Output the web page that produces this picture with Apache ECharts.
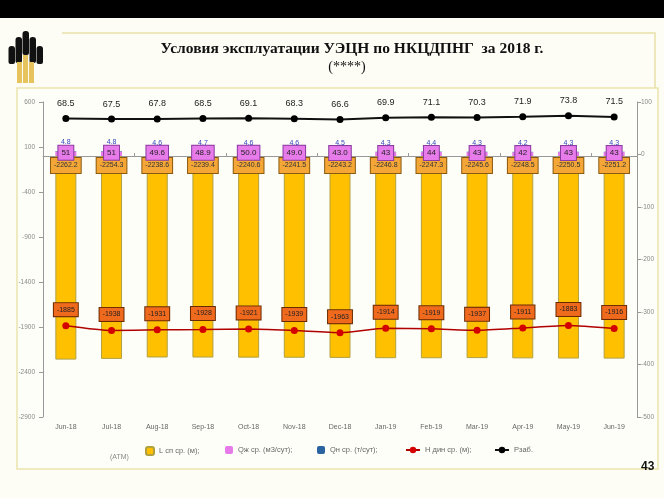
<!DOCTYPE html>
<html>
<head>
<meta charset="utf-8">
<script src="https://cdn.jsdelivr.net/npm/echarts@6/dist/echarts.min.js"></script>
<style>
html,body{margin:0;padding:0;background:#fdfdf6;}
#c{width:664px;height:498px;}
</style>
</head>
<body>
<div id="c"></div>
<script>
const categories = ['Jun-18','Jul-18','Aug-18','Sep-18','Oct-18','Nov-18','Dec-18','Jan-19','Feb-19','Mar-19','Apr-19','May-19','Jun-19'];
const lValues = [-2262.2,-2254.3,-2238.6,-2239.4,-2240.6,-2241.5,-2243.2,-2246.8,-2247.3,-2245.6,-2248.5,-2250.5,-2251.2];
const qzhValues = [51,51,49.6,48.9,50.0,49.0,43.0,43,44,43,42,43,43];
const qzhLabels = ['51','51','49.6','48.9','50.0','49.0','43.0','43','44','43','42','43','43'];
const qnValues = [4.8,4.8,4.6,4.7,4.6,4.6,4.5,4.3,4.4,4.3,4.2,4.3,4.3];
const hdynValues = [-1885,-1938,-1931,-1928,-1921,-1939,-1963,-1914,-1919,-1937,-1911,-1883,-1916];
const pzabValues = [68.5,67.5,67.8,68.5,69.1,68.3,66.6,69.9,71.1,70.3,71.9,73.8,71.5];
const seriesNames = ['L сп ср. (м);','Qж ср. (м3/сут);','Qн ср. (т/сут);','Н дин ср. (м);','Рзаб.'];
const leftAxis = {min:-2900, max:600, interval:500};
const rightAxis = {min:-500, max:100, interval:100};

const chart = echarts.init(document.getElementById('c'), null, {renderer:'canvas'});

const logo = [];
[[8,46,6.5,18],[15,37,6.5,26],[22,31,6.5,24],[29,37,6.5,26],[36,46,6.5,18]].forEach(r=>{
  logo.push({type:'rect',shape:{x:r[0]+0.5,y:r[1],width:r[2],height:r[3],r:[3,3,2,2]},style:{fill:'#111'}});
});
[[17,62,5,21],[23,55,5,28],[29,62,5,21]].forEach(r=>{
  logo.push({type:'rect',shape:{x:r[0],y:r[1],width:r[2],height:r[3]},style:{fill:'#e6c35c'}});
});

const legendLefts = [140, 220, 312, 400, 489];
const legends = seriesNames.map((n,i)=>({
  data:[n], left:legendLefts[i], top:441, itemWidth: i<3?8:14, itemHeight: 8, itemGap:4,
  textStyle:{fontSize:7.5,color:'#666',fontFamily:'Liberation Sans'}
}));

const option = {
  backgroundColor:'#fdfdf6',
  animation:false,
  textStyle:{fontFamily:'Liberation Sans'},
  graphic:[
    {type:'rect',shape:{x:0,y:0,width:664,height:18},style:{fill:'#000'}},
    {type:'polyline',shape:{points:[[62,33],[655,33],[655,88]]},style:{stroke:'#e9dfa8',fill:null,lineWidth:1.5}},
    {type:'rect',shape:{x:17,y:88,width:641,height:381},style:{fill:'#fefef9',stroke:'#ece3ad',lineWidth:1.5},z:-10},
    ...logo,
    {type:'text',style:{x:352,y:41,text:'Условия эксплуатации УЭЦН по НКЦДПНГ  за 2018 г.',font:'bold 15.5px "Liberation Serif"',fill:'#111',textAlign:'center'}},
    {type:'text',style:{x:347,y:60,text:'(****)',font:'14px "Liberation Serif"',fill:'#111',textAlign:'center'}},
    {type:'text',style:{x:110,y:454,text:'(АТМ)',font:'7px "Liberation Sans"',fill:'#888'}},
    {type:'text',style:{x:641,y:461,text:'43',font:'bold 12px "Liberation Sans"',fill:'#111'}}
  ],
  legend: legends,
  grid:{left:43,right:27,top:102,bottom:81,containLabel:false},
  xAxis:[
    {type:'category',data:categories,position:'bottom',axisLine:{show:false},axisTick:{show:false},
     axisLabel:{fontSize:7,color:'#666',margin:7}},
    {type:'category',data:categories,position:'top',axisLine:{show:true,onZero:true,onZeroAxisIndex:0,lineStyle:{color:'#999',width:1}},
     axisTick:{show:true,length:3,inside:false,lineStyle:{color:'#999'}},axisLabel:{show:false}}
  ],
  yAxis:[
    {type:'value',min:leftAxis.min,max:leftAxis.max,interval:leftAxis.interval,position:'left',
     axisLine:{show:true,lineStyle:{color:'#999'}},axisTick:{show:true,length:4,lineStyle:{color:'#999'}},
     splitLine:{show:false},axisLabel:{fontSize:6.5,color:'#888',margin:8,formatter:v=>String(v)}},
    {type:'value',min:rightAxis.min,max:rightAxis.max,interval:rightAxis.interval,position:'right',
     axisLine:{show:true,lineStyle:{color:'#999'}},axisTick:{show:true,length:4,lineStyle:{color:'#999'}},
     splitLine:{show:false},axisLabel:{fontSize:6.5,color:'#888',margin:4,formatter:v=>String(v)}}
  ],
  series:[
    {name:seriesNames[0],type:'bar',stack:'a',yAxisIndex:0,data:lValues,barWidth:21,
     itemStyle:{color:'#FFC000',borderColor:'#b0a040',borderWidth:1},
     label:{show:true,position:'insideTop',offset:[0,-3],formatter:p=>p.value.toFixed(1),fontSize:7,color:'#333',
       backgroundColor:'#F4A637',borderColor:'#8a5a10',borderWidth:1,padding:[4,3]}},
    {name:seriesNames[1],type:'bar',stack:'a',yAxisIndex:0,data:qzhValues,barWidth:21,
     itemStyle:{color:'#E57AE8'},
     label:{show:true,position:'inside',offset:[0,-1],formatter:p=>qzhLabels[p.dataIndex],fontSize:8,color:'#222',
       backgroundColor:'#E77BEA',borderColor:'#8a3aa0',borderWidth:1,padding:[3,3]}},
    {name:seriesNames[2],type:'bar',stack:'a',yAxisIndex:0,data:qnValues,barWidth:21,
     itemStyle:{color:'#2A64A0'},
     label:{show:true,position:'top',distance:5,formatter:p=>p.value.toFixed(1),fontSize:7,color:'#3344bb'}},
    {name:seriesNames[3],type:'line',yAxisIndex:0,data:hdynValues,smooth:0.2,
     lineStyle:{color:'#B00000',width:1.5},itemStyle:{color:'#D40000'},symbol:'circle',symbolSize:7,
     label:{show:true,position:'top',distance:6,fontSize:7,color:'#222',
       backgroundColor:'#F06A1E',borderColor:'#6a2a00',borderWidth:1,padding:[3,3]}},
    {name:seriesNames[4],type:'line',yAxisIndex:1,data:pzabValues,
     lineStyle:{color:'#111',width:2},itemStyle:{color:'#000'},symbol:'circle',symbolSize:7,
     label:{show:true,position:'top',distance:7,fontSize:9,color:'#222',formatter:p=>p.value.toFixed(1)}}
  ]
};
chart.setOption(option);
</script>
</body>
</html>
